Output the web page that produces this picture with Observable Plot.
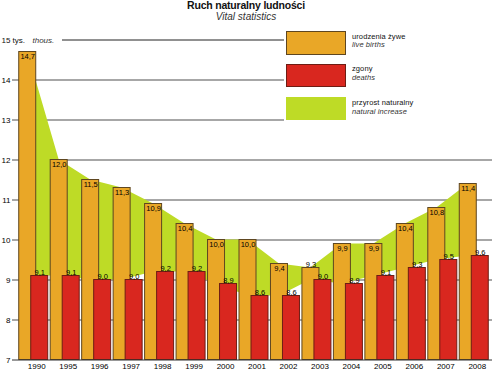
<!DOCTYPE html>
<html><head><meta charset="utf-8">
<script src="https://cdn.jsdelivr.net/npm/d3@7"></script>
<script src="https://cdn.jsdelivr.net/npm/@observablehq/plot@0.6"></script>
<style>
body{margin:0;background:#fff;font-family:"Liberation Sans",Arial,sans-serif;}
#wrap{position:relative;width:492px;height:370px;overflow:hidden;}
#title{height:22px;text-align:center;line-height:11px;color:#111;}
#title .t1{font-weight:bold;font-size:10.5px;letter-spacing:-0.2px;}
#title .t2{font-style:italic;font-size:10px;color:#333;}
#chart svg{display:block;overflow:visible;}
#legend{position:absolute;left:284px;top:28px;width:208px;height:94px;background:#fff;}
#legend .box{position:absolute;left:2px;width:60px;box-sizing:border-box;}
#legend .lab{position:absolute;left:68px;font-size:7.5px;line-height:8.5px;color:#111;letter-spacing:0.1px;}
#legend .lab i{color:#333;}
</style></head><body>
<div id="wrap">
  <div id="title"><div class="t1">Ruch naturalny ludności</div><div class="t2">Vital statistics</div></div>
  <div id="chart"></div>
  <div id="legend">
    <div class="box" style="top:3px;height:24px;background:#e9a727;border:1px solid #5e4620;"></div>
    <div class="lab" style="top:4.5px;">urodzenia żywe<br><i>live births</i></div>
    <div class="box" style="top:36px;height:23px;background:#d9271f;border:1px solid #6e1d14;"></div>
    <div class="lab" style="top:37px;">zgony<br><i>deaths</i></div>
    <div class="box" style="top:69px;height:23px;background:#bedb26;"></div>
    <div class="lab" style="top:71px;">przyrost naturalny<br><i>natural increase</i></div>
  </div>
</div>
<script>
const years = ["1990","1995","1996","1997","1998","1999","2000","2001","2002","2003","2004","2005","2006","2007","2008"];
const births = [14.7,12.0,11.5,11.3,10.9,10.4,10.0,10.0,9.4,9.3,9.9,9.9,10.4,10.8,11.4];
const deaths = [9.1,9.1,9.0,9.0,9.2,9.2,8.9,8.6,8.6,9.0,8.9,9.1,9.3,9.5,9.6];
const yTicks = [7,8,9,10,11,12,13,14];

const data = years.map((y, i) => ({year: y, births: births[i], deaths: deaths[i]}));
const fmt = v => v.toFixed(1).replace(".", ",");
const bw = (492 - 20) / years.length;
const orangeW = 17, redL = 5, redR = 12;
const inside = data.filter(d => d.births - d.deaths >= 0.5);
const above = data.filter(d => d.births - d.deaths < 0.5);
const lblStyle = {fontSize: 7.5, fill: "#000", style: "letter-spacing:0.5px"};

const chart = Plot.plot({
  width: 492, height: 348,
  marginTop: 17.5, marginBottom: 10.5, marginLeft: 20, marginRight: 0,
  style: {fontFamily: "Liberation Sans, Arial, sans-serif", background: "transparent", overflow: "visible"},
  x: {type: "band", domain: years, padding: 0, round: false, axis: null, label: null},
  y: {domain: [7, 15], axis: null, label: null},
  marks: [
    Plot.ruleY(yTicks.slice(1), {stroke: "#8a8a8a", strokeWidth: 1.3, insetLeft: -8}),
    Plot.ruleY([15], {stroke: "#222", strokeWidth: 1, insetLeft: 42}),
    Plot.areaY(data, {x: "year", y1: "deaths", y2: "births", fill: "#bedb26", dx: -orangeW / 2}),
    Plot.barY(data, {x: "year", y1: 7, y2: "births", fill: "#e9a727", stroke: "#5e4620", strokeWidth: 1,
      insetLeft: 0, insetRight: bw - orangeW, dx: bw / 2 - orangeW}),
    Plot.barY(data, {x: "year", y1: 7, y2: "deaths", fill: "#d9271f", stroke: "#6e1d14", strokeWidth: 1,
      insetLeft: bw / 2 - redL, insetRight: bw / 2 - redR}),
    Plot.ruleY([7], {stroke: "#333", strokeWidth: 1, insetLeft: -8}),
    Plot.text(inside, {x: "year", y: "births", text: d => fmt(d.births), dx: -orangeW / 2, dy: 2, lineAnchor: "top", ...lblStyle}),
    Plot.text(above, {x: "year", y: "births", text: d => fmt(d.births), dx: -orangeW / 2, dy: -1, lineAnchor: "bottom", ...lblStyle}),
    Plot.text(data, {x: "year", y: "deaths", text: d => fmt(d.deaths), dx: (redR - redL) / 2, dy: -1, lineAnchor: "bottom", ...lblStyle}),
    Plot.axisY({ticks: yTicks, tickSize: 0, tickPadding: 10, fontSize: 8, label: null, tickFormat: d => String(d)}),
    Plot.text(["15 tys."], {y: [15], frameAnchor: "left", textAnchor: "start", dx: -19, fontSize: 8, fill: "#111"}),
    Plot.text(["thous."], {y: [15], frameAnchor: "left", textAnchor: "start", dx: 12, fontSize: 8, fontStyle: "italic", fill: "#333"}),
    Plot.axisX({tickSize: 0, tickPadding: 3, fontSize: 8, dx: 0.5, label: null})
  ]
});
document.getElementById("chart").appendChild(chart);
</script>
</body></html>
